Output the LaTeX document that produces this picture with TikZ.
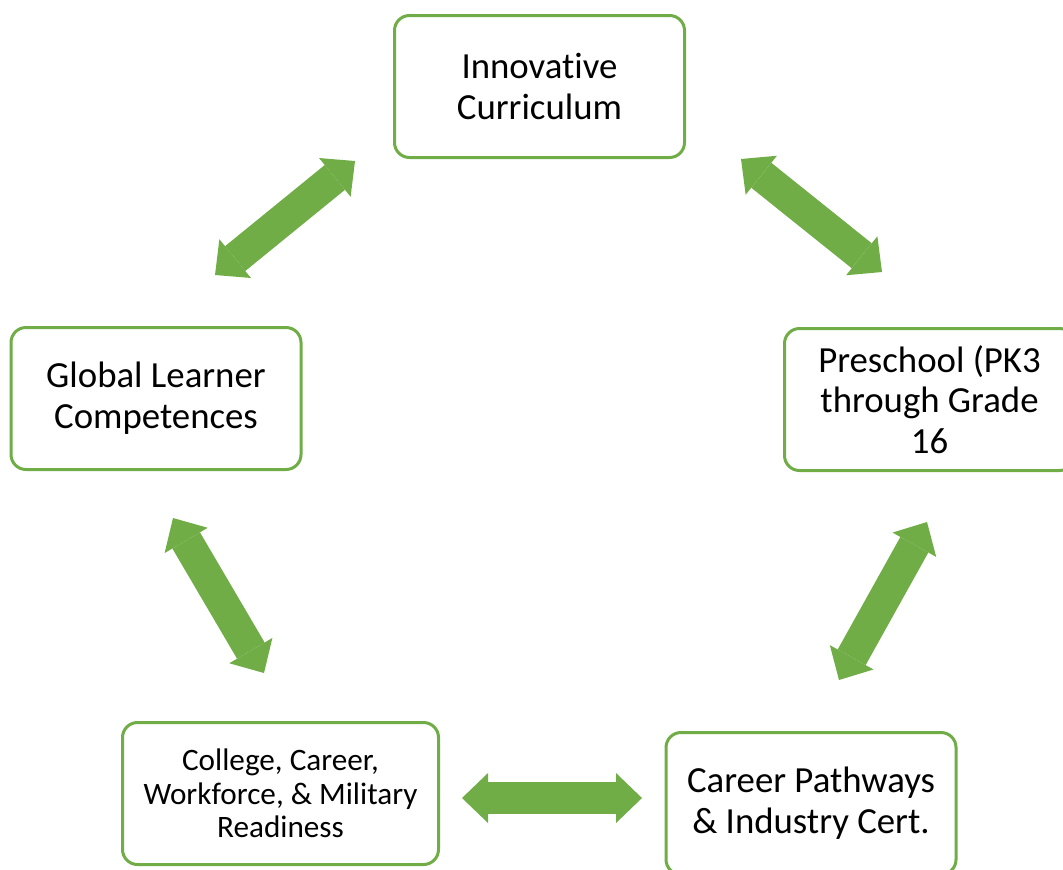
\documentclass[tikz,border=0pt]{standalone}
\usepackage{fontspec}
\setmainfont{Carlito}[Ligatures=NoCommon]
\usepackage{tikz}
\usetikzlibrary{arrows.meta,positioning}
\definecolor{leaf}{HTML}{70AD47}

\begin{document}
\begin{tikzpicture}[x=0.5pt,y=-0.5pt,every node/.style={block},
        block/.style={draw=leaf,line width=1.5pt,rounded corners=7.5pt,fill=white,align=center,
          minimum width=145pt,minimum height=71pt,inner sep=0pt,
          font=\fontsize{18.4}{20.4}\selectfont},
        link/.style={leaf,line width=16pt,
          {Triangle[length=13pt,width=25pt,line width=0pt]}-{Triangle[length=13pt,width=25pt,line width=0pt]}}]
   \useasboundingbox (0,0) rectangle (1063,869);
   \clip (0,0) rectangle (1063,869);

   \node (IC) at (539.5,86.5) {Innovative\\Curriculum};
   \node (PS) at (929.5,399.5) {Preschool (PK3\\through Grade\\16};
   \node (CP) at (811,803.5) {Career Pathways\\\& Industry Cert.};
   \node (CR) [minimum width=158pt,font=\fontsize{15.6}{16.8}\selectfont] at (280.5,793.5)
      {College, Career,\\Workforce, \& Military\\Readiness};
   \node (GL) at (156,398.5) {Global Learner\\Competences};

   % arrow ends
   \coordinate (GL-IC) at (215,275);
   \coordinate (IC-GL) at (355,161);
   \coordinate (IC-PS) at (741,159);
   \coordinate (PS-IC) at (882,272);
   \coordinate (GL-CR) at (173,518);
   \coordinate (CR-GL) at (264,673);
   \coordinate (PS-CP) at (927,522);
   \coordinate (CP-PS) at (839,680);
   \coordinate (CR-CP) at (462,798);
   \coordinate (CP-CR) at (642,798);

   \draw[link] (GL-IC) -- (IC-GL);
   \draw[link] (IC-PS) -- (PS-IC);
   \draw[link] (GL-CR) -- (CR-GL);
   \draw[link] (PS-CP) -- (CP-PS);
   \draw[link] (CR-CP) -- (CP-CR);
\end{tikzpicture}
\end{document}
